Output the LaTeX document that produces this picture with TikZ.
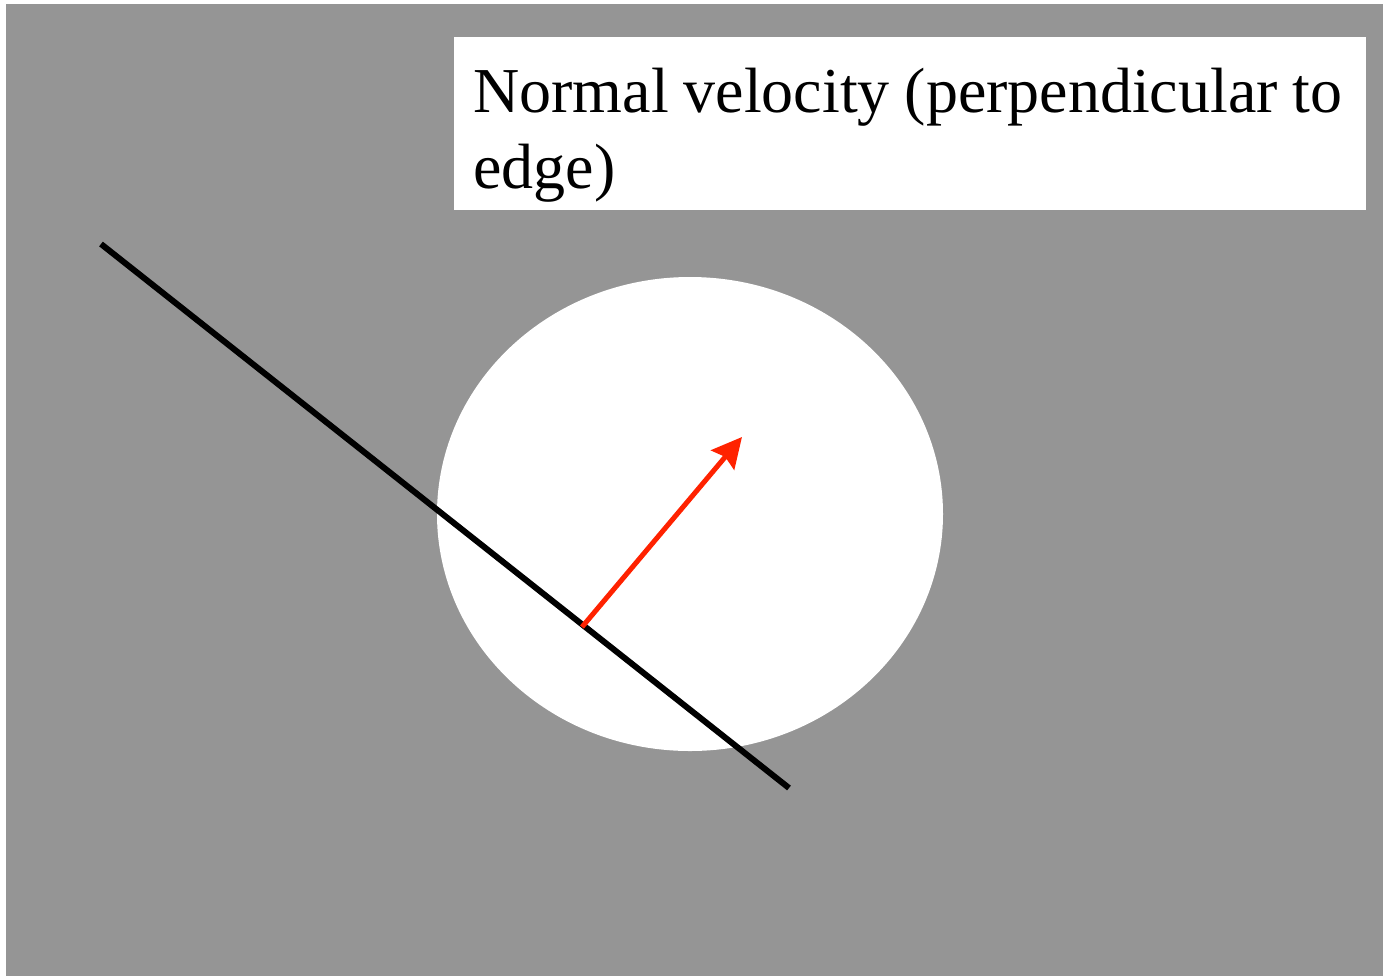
\documentclass[tikz,border=0pt]{standalone}
\usepackage{fontspec}
\setmainfont{Liberation Serif}
\usepackage{xcolor}
\usetikzlibrary{arrows.meta,positioning,shapes.geometric}
\definecolor{bggray}{HTML}{959595}
\definecolor{velred}{HTML}{FF2200}
\tikzset{
  disc/.style={ellipse, fill=white, inner sep=0pt, minimum width=253pt, minimum height=237pt},
  label box/.style={fill=white, anchor=north west, align=left, inner xsep=9.5pt, inner ysep=10.5pt,
    text width=437pt, text height=27pt, text depth=38.5pt, font=\fontsize{32}{38}\selectfont},
  edge line/.style={line width=3pt, black},
  vel/.style={line width=2.5pt, velred, -{Stealth[length=15pt, width=15pt, inset=2pt]}}
}
\begin{document}
\begin{tikzpicture}[x=0.5pt, y=-0.5pt]
        \useasboundingbox (0,0) rectangle (1383,976);
        \fill[white] (0,0) rectangle (1383,976);
        \fill[bggray] (6,4) rectangle (1383,976);
        \node[disc] (cell) at (690,514) {};
        \node[label box] (title) at (454,37) {\spaceskip=7.4pt\mbox{Normal velocity (perpendicular to}\\edge)};
        \coordinate (e1) at (101,244);
        \coordinate (e2) at (789,788);
        \coordinate (foot) at (582,627);
        \coordinate (tip) at (742,437);
        \draw[edge line] (e1) -- (e2);
        \draw[vel] (foot) -- (tip);
      \end{tikzpicture}
\end{document}
